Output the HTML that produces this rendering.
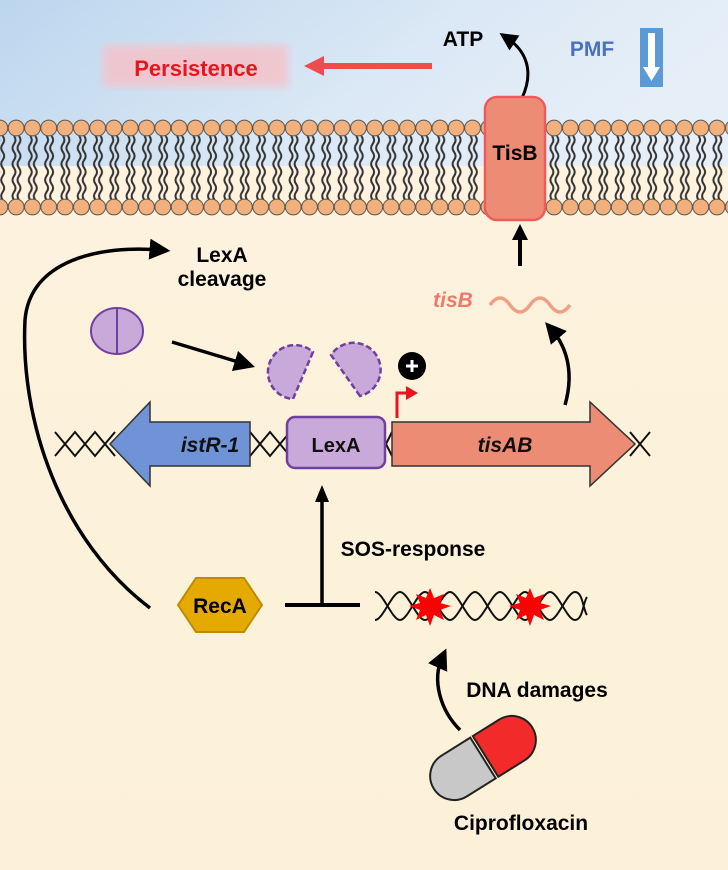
<!DOCTYPE html>
<html><head><meta charset="utf-8"><style>
html,body{margin:0;padding:0;width:728px;height:870px;overflow:hidden;background:#fdf1da}
svg{display:block}
text{font-family:"Liberation Sans",Arial,sans-serif;font-weight:bold}
</style></head><body>
<svg width="728" height="870" viewBox="0 0 728 870" xmlns="http://www.w3.org/2000/svg">
<defs>
<linearGradient id="sky" x1="0" y1="0" x2="1" y2="0.3">
<stop offset="0" stop-color="#bcd6ee"/><stop offset="0.6" stop-color="#dbe8f5"/><stop offset="1" stop-color="#e6eff8"/></linearGradient>
<linearGradient id="cream" x1="0" y1="0" x2="0" y2="1">
<stop offset="0" stop-color="#fdf3df"/><stop offset="1" stop-color="#fcf1d8"/></linearGradient>
<filter id="blur"><feGaussianBlur stdDeviation="4"/></filter>
<marker id="ah" markerWidth="6" markerHeight="6" refX="3" refY="3" orient="auto" markerUnits="strokeWidth">
<path d="M0,0 L6,3 L0,6 z" fill="#000"/></marker>
<pattern id="tails" x="8" y="0" width="16.3" height="870" patternUnits="userSpaceOnUse">
<path d="M6,136 q3,4 0,8 q-3,4 0,8 q3,4 0,8 q-3,4 0,8 q3,4 0,8 q-3,4 0,8 q3,4 0,8 q-3,4 0,8" fill="none" stroke="#333" stroke-width="2"/>
<path d="M11,136 q3,4 0,8 q-3,4 0,8 q3,4 0,8 q-3,4 0,8 q3,4 0,8 q-3,4 0,8 q3,4 0,8 q-3,4 0,8" fill="none" stroke="#333" stroke-width="2"/>
<circle cx="8.15" cy="128" r="7.9" fill="#f2b07c" stroke="#555" stroke-width="1"/>
<circle cx="8.15" cy="207" r="7.9" fill="#f2b07c" stroke="#555" stroke-width="1"/>
</pattern>
</defs>
<rect width="728" height="870" fill="url(#cream)"/>
<rect width="728" height="166" fill="url(#sky)"/>
<rect x="0" y="115" width="728" height="102" fill="url(#tails)"/>

<!-- Persistence -->
<rect x="103" y="45" width="185" height="42" fill="#f3c4cc" filter="url(#blur)" opacity="0.9"/>
<text x="196" y="76" font-size="22" fill="#e8141e" text-anchor="middle">Persistence</text>
<line x1="432" y1="66" x2="322" y2="66" stroke="#f04c50" stroke-width="6"/>
<path d="M304,66 L324,56 L324,76 z" fill="#f04c50"/>
<text x="463" y="46" font-size="21" text-anchor="middle">ATP</text>
<path d="M522,98 C535,70 525,50 507,38" fill="none" stroke="#000" stroke-width="3" marker-end="url(#ah)"/>
<text x="592" y="56" font-size="21" fill="#4a70c0" text-anchor="middle">PMF</text>
<rect x="640" y="28" width="23" height="59" fill="#5b9ad6"/>
<path d="M648,33 h7 v34 h5 l-8.5,14 l-8.5,-14 h5 z" fill="#fff"/>

<!-- TisB -->
<rect x="485" y="97" width="60" height="123" rx="12" fill="#ec8c74" stroke="#f05a5a" stroke-width="2.5"/>
<text x="515" y="160" font-size="21" text-anchor="middle">TisB</text>
<line x1="520" y1="266" x2="520" y2="238" stroke="#000" stroke-width="4"/>
<path d="M520,224 L512,240 L528,240 z"/>
<text x="453" y="307" font-size="21" fill="#ee7a6e" font-style="italic" text-anchor="middle">tisB</text>
<path d="M490,305 q10,-14 20,0 t20,0 t20,0 t20,0" fill="none" stroke="#f0a088" stroke-width="3.5"/>
<path d="M565,405 C575,370 565,345 552,330" fill="none" stroke="#000" stroke-width="3.5" marker-end="url(#ah)"/>

<!-- LexA cleavage -->
<text x="222" y="262" font-size="21" text-anchor="middle">LexA</text>
<text x="222" y="286" font-size="21" text-anchor="middle">cleavage</text>
<path d="M150,608 C60,540 20,420 25,320 C30,260 100,245 160,250" fill="none" stroke="#000" stroke-width="3.5" marker-end="url(#ah)"/>
<ellipse cx="117" cy="331" rx="26" ry="23" fill="#c9a9d9" stroke="#7040a0" stroke-width="2"/>
<line x1="117" y1="308" x2="117" y2="354" stroke="#7040a0" stroke-width="2"/>
<line x1="172" y1="342" x2="245" y2="364" stroke="#000" stroke-width="3.5" marker-end="url(#ah)"/>
<path d="M313,352 L293,399 A27,27 0 1 1 313,352 z" fill="#c9a9d9" stroke="#7040a0" stroke-width="2.5" stroke-dasharray="6,3"/>
<path d="M360,396 L331,355 A27,27 0 1 1 360,396 z" fill="#c9a9d9" stroke="#7040a0" stroke-width="2.5" stroke-dasharray="6,3"/>
<circle cx="412" cy="366" r="14" fill="#000"/>
<path d="M406,366 h12 M412,360 v12" stroke="#fff" stroke-width="3"/>
<path d="M397,418 V393 H408" fill="none" stroke="#e8141e" stroke-width="3"/>
<path d="M406,386 L418,393 L406,400 z" fill="#e8141e"/>

<!-- DNA helix -->
<g fill="none" stroke="#111" stroke-width="2">
<path d="M55,432 q10,12 20,24 q10,-12 20,-24 q10,12 20,24 M55,456 q10,-12 20,-24 q10,12 20,24 q10,-12 20,-24"/>
<path d="M250,432 q10,12 20,24 q10,-12 20,-24 M250,456 q10,-12 20,-24 q10,12 20,24"/>
<path d="M380,432 q6,12 12,24 M380,456 q6,-12 12,-24"/>
<path d="M630,432 q10,12 20,24 M630,456 q10,-12 20,-24"/>
</g>
<path d="M110,444 L150,402 L150,422 L250,422 L250,466 L150,466 L150,486 z" fill="#6f93d6" stroke="#333" stroke-width="1.5"/>
<text x="210" y="452" font-size="21" font-style="italic" text-anchor="middle" fill="#111">istR-1</text>
<rect x="287" y="417" width="98" height="51" rx="8" fill="#c9a9d9" stroke="#7040a0" stroke-width="2.5"/>
<text x="336" y="452" font-size="20" text-anchor="middle" fill="#111">LexA</text>
<path d="M392,422 L590,422 L590,402 L635,444 L590,486 L590,466 L392,466 z" fill="#ec8c74" stroke="#333" stroke-width="1.5"/>
<text x="505" y="452" font-size="21" font-style="italic" text-anchor="middle" fill="#111">tisAB</text>

<!-- SOS -->
<line x1="322" y1="605" x2="322" y2="500" stroke="#000" stroke-width="3.5"/>
<path d="M322,485 L315,502 L329,502 z"/>
<line x1="285" y1="605" x2="360" y2="605" stroke="#000" stroke-width="4"/>
<text x="413" y="556" font-size="21" text-anchor="middle">SOS-response</text>
<polygon points="178,605 196,578 244,578 262,605 244,632 196,632" fill="#e4aa00" stroke="#c08a00" stroke-width="2"/>
<text x="220" y="613" font-size="21" text-anchor="middle">RecA</text>
<g fill="none" stroke="#111" stroke-width="2">
<path d="M375,592 C383,592 392,620 400,620 S417,592 425,592 S442,620 450,620 S467,592 475,592 S492,620 500,620 S517,592 525,592 S542,620 550,620 S567,592 575,592 S583,610 587,615"/>
<path d="M375,620 C383,620 392,592 400,592 S417,620 425,620 S442,592 450,592 S467,620 475,620 S492,592 500,592 S517,620 525,620 S542,592 550,592 S567,620 575,620 S583,602 587,597"/>
</g>
<g fill="#f00">
<polygon points="430,588 434,598 444,594 440,603 451,606 440,610 444,620 434,615 430,626 426,615 416,620 420,610 409,606 420,603 416,594 426,598"/>
<polygon points="530,588 534,598 544,594 540,603 551,606 540,610 544,620 534,615 530,626 526,615 516,620 520,610 509,606 520,603 516,594 526,598"/>
</g>
<path d="M460,730 C440,710 432,680 442,658" fill="none" stroke="#000" stroke-width="3.5" marker-end="url(#ah)"/>
<text x="537" y="697" font-size="21" text-anchor="middle">DNA damages</text>
<g transform="translate(483,758) rotate(-32)">
<path d="M0,-24 L-34,-24 A24,24 0 0 0 -34,24 L0,24 z" fill="#c8c8c8" stroke="#222" stroke-width="2"/>
<path d="M3,-24 L34,-24 A24,24 0 0 1 34,24 L3,24 z" fill="#f22a2a" stroke="#222" stroke-width="2"/>
</g>
<text x="521" y="830" font-size="21" text-anchor="middle">Ciprofloxacin</text>
</svg>
</body></html>
